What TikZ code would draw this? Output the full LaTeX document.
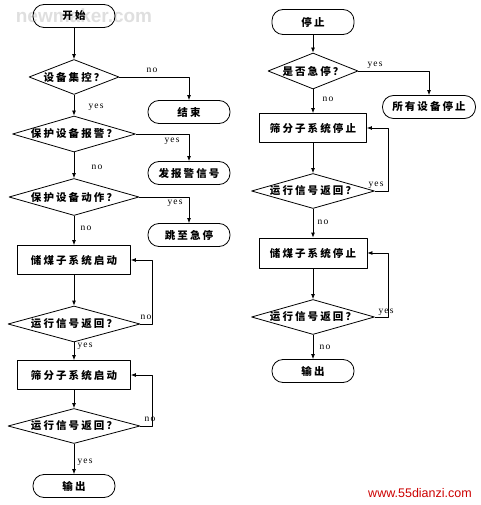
\documentclass[tikz,border=0pt]{standalone}
\usepackage{fontspec}
\usetikzlibrary{shapes.geometric,arrows.meta}
\newfontfamily\cjk[LetterSpace=20]{Noto Sans CJK SC}
\newfontfamily\lat[LetterSpace=12]{Liberation Serif}
\newfontfamily\wmark{Liberation Sans}
\newcommand{\dtxt}[1]{\makebox[0pt]{#1}}
\tikzset{
  term/.style={draw, rectangle, rounded corners=11pt, minimum width=82pt, minimum height=23pt, inner sep=0pt},
  proc/.style={draw, rectangle, minimum width=113pt, minimum height=29pt, inner sep=0pt},
  dec/.style={draw, diamond, inner sep=0pt, minimum width=132pt, minimum height=36pt},
  lbl/.style={font=\lat\fontsize{9.5}{10}\selectfont, inner sep=0pt}
}
\begin{document}
\begin{tikzpicture}[x=1pt, y=-1pt, line width=0.8pt, line join=round,
    >={Latex[length=5pt,width=4pt]}, font=\cjk\bfseries\fontsize{10.5}{12}\selectfont]
  \useasboundingbox (0,0) rectangle (480,505);
  \node[text=gray!25, font=\wmark\bfseries\fontsize{19}{20}\selectfont] (wm) at (84,16) {newmaker.com};
  \node[term] (start) at (74,16) {开始};
  \node[dec, minimum width=90pt, minimum height=35pt] (q1) at (74,77) {\dtxt{设备集控？}};
  \node[term] (end1) at (189,112) {结束};
  \node[dec, minimum width=123pt] (q2) at (74,134) {\dtxt{保护设备报警？}};
  \node[term] (alarm) at (189,173) {发报警信号};
  \node[dec, minimum width=130pt, minimum height=37pt] (q3) at (74,197) {\dtxt{保护设备动作？}};
  \node[term] (jump) at (189,235) {跳至急停};
  \node[proc] (coalon) at (74,260) {储煤子系统启动};
  \node[dec] (c1) at (74,324) {\dtxt{运行信号返回？}};
  \node[proc] (screenon) at (74,375) {筛分子系统启动};
  \node[dec, minimum height=35pt] (c2) at (74,426) {\dtxt{运行信号返回？}};
  \node[term] (out1) at (74,486) {输出};
  \node[term, minimum height=25pt] (stop) at (313,22) {停止};
  \node[dec, minimum width=90pt] (q4) at (313,71) {\dtxt{是否急停？}};
  \node[term, minimum width=93pt] (allstop) at (429,107) {所有设备停止};
  \node[proc, minimum width=107pt] (screenoff) at (313,128) {筛分子系统停止};
  \node[dec, minimum width=123pt, minimum height=35pt] (c3) at (313,191) {\dtxt{运行信号返回？}};
  \node[proc, minimum width=108pt, minimum height=30pt] (coaloff) at (313,253) {储煤子系统停止};
  \node[dec, minimum width=123pt, minimum height=35pt] (c4) at (313,317) {\dtxt{运行信号返回？}};
  \node[term] (out2) at (313,371) {输出};
  \foreach \a/\b in {start/q1,q1/q2,q2/q3,q3/coalon,coalon/c1,c1/screenon,screenon/c2,c2/out1,
      stop/q4,q4/screenoff,screenoff/c3,c3/coaloff,coaloff/c4,c4/out2}
    \draw[->] (\a) -- (\b);
  \foreach \a/\b in {q1/end1,q2/alarm,q3/jump,q4/allstop}
    \draw[->] (\a.east) -| (\b.north);
  \foreach \a/\b/\d in {c1/coalon/12,c2/screenon/12,c3/screenoff/13,c4/coaloff/13}
    \draw[->] (\a.east) -- ++(\d,0) |- (\b.east);
  \foreach \t/\p [count=\i] in {no/{152,70},yes/{96,107},yes/{172,141},no/{97,167},yes/{175,203},
      no/{86,228},no/{146,317},yes/{85,346},no/{150,419},yes/{85,462},
      yes/{375,65},no/{328,99},yes/{376,185},no/{323,222},yes/{386,312},no/{325,347}}
    \node[lbl] (lab\i) at (\p) {\t};
  \node[text=red!80!black, font=\wmark\fontsize{12.5}{14}\selectfont] (site) at (420,493) {www.55dianzi.com};
\end{tikzpicture}
\end{document}
